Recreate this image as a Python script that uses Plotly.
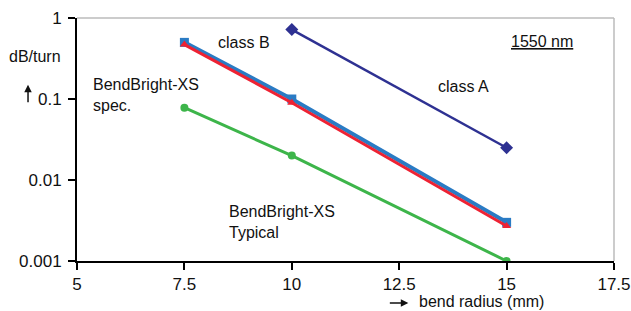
import plotly.graph_objects as go

radius_A = [10, 15]
loss_A = [0.72, 0.025]
radius_B = [7.5, 10, 15]
loss_B = [0.5, 0.1, 0.003]
radius_spec = [7.5, 10, 15]
loss_spec = [0.47, 0.09, 0.0027]
radius_typ = [7.5, 10, 15]
loss_typ = [0.078, 0.02, 0.001]

x_ticks = [5, 7.5, 10, 12.5, 15, 17.5]
x_ticklabels = ["5", "7.5", "10", "12.5", "15", "17.5"]
y_ticks = [0.001, 0.01, 0.1, 1]
y_ticklabels = ["0.001", "0.01", "0.1", "1"]

FONT = "Liberation Sans, Arial, sans-serif"
FS = 16
NAVY = "#2E3192"
BLUE = "#2A7BC4"
RED = "#EE2233"
GREEN = "#3DB54A"
TXT = "#111111"

fig = go.Figure()
fig.add_trace(go.Scatter(x=radius_typ, y=loss_typ, mode="lines+markers",
                         line=dict(color=GREEN, width=3),
                         marker=dict(symbol="circle", size=8, color=GREEN)))
fig.add_trace(go.Scatter(x=radius_B, y=loss_B, mode="lines+markers",
                         line=dict(color=BLUE, width=4),
                         marker=dict(symbol="square", size=9, color=BLUE)))
fig.add_trace(go.Scatter(x=radius_spec, y=loss_spec, mode="lines+markers",
                         line=dict(color=RED, width=3),
                         marker=dict(symbol="triangle-up", size=8, color=RED)))
fig.add_trace(go.Scatter(x=radius_A, y=loss_A, mode="lines+markers",
                         line=dict(color=NAVY, width=2.5),
                         marker=dict(symbol="diamond", size=10, color=NAVY)))


def leader(x0, ly0, x1, ly1):
    fig.add_shape(type="line", xref="x", yref="y", x0=x0, y0=ly0, x1=x1, y1=ly1,
                  line=dict(color="#333333", width=1))

leader(9.345, -0.428, 9.205, -0.737)   # class B
leader(7.81, -0.807, 9.09, -0.807)     # spec
leader(14.46, -0.972, 14.41, -1.416)   # class A
leader(9.39, -2.181, 10.25, -1.749)    # typical

def label(x, ly, text, xanchor="center", underline=False):
    f = dict(family=FONT, size=FS, color=TXT)
    if underline:
        f["lineposition"] = "under"
    fig.add_annotation(x=x, y=ly, xref="x", yref="y", text=text, showarrow=False,
                       xanchor=xanchor, yanchor="middle", align="left", font=f)

label(8.88, -0.305, "class B")
label(5.33, -0.95, "BendBright-XS<br>spec.", xanchor="left")
label(14.0, -0.848, "class A")
label(8.48, -2.52, "BendBright-XS<br>Typical", xanchor="left")
label(15.82, -0.289, "1550 nm", underline=True)

# border lines top/right
fig.add_shape(type="line", xref="paper", yref="paper", x0=0, y0=1, x1=1, y1=1,
              line=dict(color="#BBBBBB", width=1.5))
fig.add_shape(type="line", xref="paper", yref="paper", x0=1, y0=0, x1=1, y1=1,
              line=dict(color="#BBBBBB", width=1.5))

# axis titles
fig.add_annotation(x=-0.079, y=0.84, xref="paper", yref="paper", text="dB/turn",
                   showarrow=False, xanchor="center", yanchor="middle",
                   font=dict(family=FONT, size=FS, color=TXT))
fig.add_annotation(x=-0.0912, y=0.725, xref="paper", yref="paper", text="",
                   showarrow=True, ax=0, ay=19, arrowhead=2, arrowsize=1,
                   arrowwidth=1.5, arrowcolor=TXT)
fig.add_annotation(x=0.617, y=-0.173, xref="paper", yref="paper", text="",
                   showarrow=True, ax=-20, ay=0, arrowhead=2, arrowsize=1,
                   arrowwidth=1.5, arrowcolor=TXT)
fig.add_annotation(x=0.754, y=-0.168, xref="paper", yref="paper", text="bend radius (mm)",
                   showarrow=False, xanchor="center", yanchor="middle",
                   font=dict(family=FONT, size=FS, color=TXT))

fig.update_layout(
    width=631, height=311,
    margin=dict(l=77, r=17, t=18, b=50, autoexpand=False),
    paper_bgcolor="white", plot_bgcolor="white",
    showlegend=False,
    font=dict(family=FONT, size=FS, color=TXT),
)
axis_common = dict(showgrid=False, zeroline=False, showline=True, linecolor="black",
                   linewidth=2, ticks="outside", ticklen=7, tickcolor="black",
                   tickwidth=1.5, automargin=False, ticklabeloverflow="allow",
                   tickfont=dict(family=FONT, size=FS + 1, color=TXT))
fig.update_xaxes(range=[5, 17.5], tickvals=x_ticks, ticktext=x_ticklabels, **axis_common)
fig.update_yaxes(type="log", range=[-3, 0], tickvals=y_ticks, ticktext=y_ticklabels,
                 ticklabelstandoff=3, **axis_common)

fig.write_html("out.html", config={"displayModeBar": False},
               post_script="document.body.style.margin='0';document.body.style.overflow='hidden';")
